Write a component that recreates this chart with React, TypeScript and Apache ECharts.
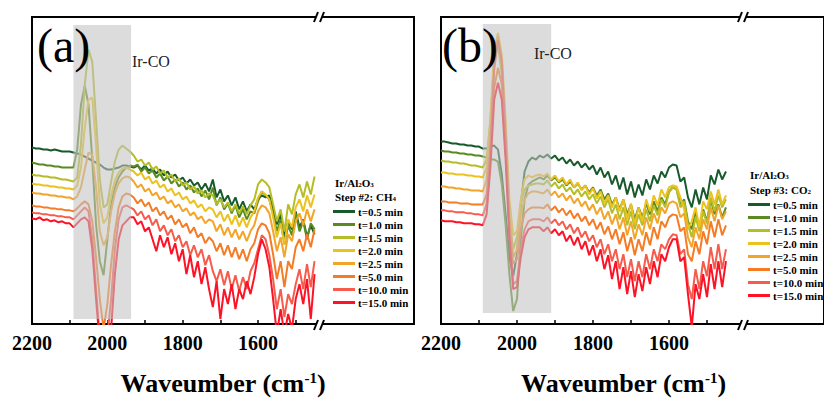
import React, { useEffect, useRef } from "react";
import * as echarts from "echarts";

const FONT = "'Liberation Serif', 'Times New Roman', serif";

// Sampling grid (cm-1)
const wavenumbers = [
  2200, 2190, 2180, 2170, 2160, 2150, 2140, 2130, 2120, 2110, 2100, 2090, 2080, 2070, 2060, 2050, 2040, 2030, 2020,
  2010, 2000, 1990, 1980, 1970, 1960, 1950, 1940, 1930, 1920, 1910, 1900, 1890, 1880, 1870, 1860, 1850, 1840, 1830,
  1820, 1810, 1800, 1790, 1780, 1770, 1760, 1750, 1740, 1730, 1720, 1710, 1700, 1690, 1680, 1670, 1660, 1650, 1640,
  1630, 1620, 1610, 1600, 1590, 1580, 1570, 1560, 1550, 1540, 1530, 1520, 1510, 1500, 1490, 1480, 1470, 1460, 1450,
];

const seriesNames = ["t=0.5 min", "t=1.0 min", "t=1.5 min", "t=2.0 min", "t=2.5 min", "t=5.0 min", "t=10.0 min", "t=15.0 min"];
const seriesColors = ["#175a2b", "#5b8a23", "#b5bd27", "#ecc21e", "#f2a528", "#f57c25", "#f65b4b", "#fe1226"];

const tickValues = [2200, 2100, 2000, 1900, 1800, 1700, 1600, 1500];
const labelValues = [2200, 2000, 1800, 1600];

// Panel (a): Step #2 CH4 (absorbance, a.u., offset)
const a05 = [177,176,176,175,175,174,175,174,173,173,173,172,171,170,168,166,164,162,160,157,155,155,156,157,159,159,158,157,159,155,159,154,156,151,155,149,153,147,150,144,147,141,145,139,142,135,141,133,145,127,135,123,129,119,127,115,123,113,120,115,125,129,127,129,115,100,110,87,103,95,113,97,105,87,99,90];
const a10 = [162,161,160,160,159,159,158,158,157,157,157,157,175,220,239,220,165,100,63,49,85,120,137,147,153,157,159,158,160,153,157,151,154,147,151,144,148,141,145,138,142,135,139,132,136,128,134,125,137,119,127,115,121,111,119,107,115,105,113,111,123,133,129,125,110,93,105,80,99,89,111,93,103,85,101,95];
const a15 = [150,149,149,148,148,147,147,146,145,145,144,143,147,180,240,275,263,205,145,117,120,143,163,175,179,176,173,169,163,165,159,162,155,158,151,154,147,150,143,146,139,142,135,138,131,134,127,131,129,120,125,117,122,113,120,111,118,110,119,125,140,145,142,137,120,103,115,93,120,110,130,140,127,143,130,148];
const a20 = [141,140,140,139,139,138,138,137,137,136,136,135,139,157,197,225,227,180,120,101,107,129,144,152,156,157,155,153,149,152,145,148,141,144,137,140,133,136,129,132,125,128,121,124,117,120,113,117,115,107,113,103,110,100,109,98,107,97,107,113,127,133,130,125,107,87,101,80,105,97,117,125,113,129,117,130];
const a25 = [132,131,131,130,130,129,129,128,128,127,127,125,128,137,155,172,170,137,93,79,87,113,131,141,146,148,147,143,137,140,133,136,129,132,125,128,121,124,117,120,113,116,109,112,105,108,101,105,103,93,100,89,97,87,95,85,93,83,93,99,113,119,117,111,93,73,87,67,90,83,103,111,99,115,103,115];
const a50 = [119,118,118,117,117,116,116,115,115,114,114,113,116,120,123,120,103,67,25,-5,20,60,93,117,128,131,130,127,121,125,118,122,113,117,109,113,105,109,100,105,97,101,91,97,87,91,81,87,83,73,81,69,79,67,77,65,75,63,75,81,95,101,99,91,70,45,63,37,63,55,77,85,73,90,77,95];
const a100 = [112,111,111,110,110,109,109,108,108,107,107,105,109,113,117,113,85,35,-15,-20,-13,25,75,105,117,119,117,115,109,113,105,109,99,105,93,99,89,95,83,89,77,83,69,79,67,75,59,69,53,43,55,39,53,35,49,33,47,35,53,61,75,89,85,69,45,15,35,7,30,20,40,55,35,60,37,63];
const a150 = [106,105,107,104,105,103,104,102,103,101,101,97,101,105,107,103,75,25,-20,-25,-23,-5,50,85,99,103,107,107,100,103,93,97,85,73,89,77,87,70,81,63,75,50,69,47,63,40,57,35,17,43,5,35,20,40,15,35,25,43,30,47,70,85,75,57,25,-10,15,-10,10,-5,25,40,20,45,5,50];

// Panel (b): Step #3 CO2
const b05 = [183,183,182,181,181,180,180,179,179,178,178,176,176,178,179,175,150,110,67,48,70,120,153,163,167,165,169,167,170,166,169,164,167,161,165,159,163,157,161,155,159,150,157,147,153,140,149,135,147,130,143,127,140,129,145,135,149,141,153,147,157,160,159,143,147,127,117,135,120,137,125,149,140,155,145,153];
const b10 = [174,173,173,172,172,171,171,170,170,169,169,168,167,165,165,163,140,100,50,13,25,85,125,140,143,145,147,145,149,144,147,142,145,139,143,137,141,135,139,132,137,129,135,125,131,120,127,115,125,110,120,105,117,107,121,110,123,113,127,120,133,137,135,120,125,103,95,113,97,115,103,125,110,120,107,117];
const b15 = [164,163,163,162,162,161,161,160,159,159,158,157,165,205,265,280,250,175,105,75,87,120,135,139,140,141,141,140,144,138,142,136,140,133,137,130,135,128,133,125,130,121,128,117,125,111,120,105,117,99,113,95,110,99,115,103,119,109,125,117,132,137,135,117,123,100,87,107,93,113,101,127,113,129,117,125];
const b20 = [152,152,151,151,150,150,150,149,149,148,148,147,157,205,275,292,270,205,125,89,93,125,145,149,147,149,150,148,151,145,149,143,147,140,145,137,142,134,139,130,136,126,133,121,129,117,127,113,125,105,121,100,117,103,125,113,129,119,135,127,137,139,138,127,115,95,103,117,97,123,115,133,120,135,120,129];
const b25 = [138,138,137,137,136,136,135,135,134,134,134,133,145,195,265,289,265,195,110,67,75,110,125,131,133,133,132,131,135,129,133,127,131,124,129,121,126,118,123,114,120,110,117,105,113,100,110,95,107,89,103,85,100,89,107,95,111,101,117,111,121,123,121,107,111,87,77,97,85,105,95,117,103,119,105,113];
const b50 = [123,123,122,122,122,121,121,121,120,120,120,120,130,175,237,257,240,175,97,60,65,95,111,115,117,117,117,116,120,114,118,112,116,109,114,106,111,103,108,99,105,95,102,90,98,85,95,80,92,73,87,69,85,73,92,79,97,85,103,97,107,110,109,93,97,70,63,83,70,93,80,103,87,105,89,99];
const b100 = [114,114,113,113,112,112,112,111,111,110,110,109,120,175,255,285,263,185,95,40,43,75,95,103,105,105,105,103,107,101,105,99,103,95,100,91,97,87,93,83,89,77,85,70,80,63,75,55,70,47,65,43,63,47,70,55,75,63,80,75,85,90,89,70,75,40,25,55,35,63,48,77,55,80,55,75];
const b150 = [104,103,103,103,102,102,101,101,101,100,100,99,110,157,225,242,225,165,85,35,37,67,87,95,97,97,97,93,97,91,95,89,93,83,89,79,87,75,83,69,79,63,75,55,69,45,63,35,57,30,53,27,50,33,57,40,63,47,70,63,77,85,85,63,67,30,-3,40,25,50,27,60,35,63,37,63];

const panelA = [a05, a10, a15, a20, a25, a50, a100, a150];
const panelB = [b05, b10, b15, b20, b25, b50, b100, b150];

// Ir-CO shaded region: [from cm-1, bottom a.u., to cm-1, top a.u.]
const bandA = [2090, 5, 1937, 300];
const bandB = [2090, 11, 1910, 301];

const Y_MAX = 308;

function makeX(gridIndex: number, min: number, shift: number) {
  return {
    type: "value",
    gridIndex,
    inverse: true,
    min,
    max: 2200,
    axisLine: { show: true, onZero: false, lineStyle: { color: "#000", width: 2 } },
    axisTick: { show: true, inside: true, length: 4, customValues: tickValues, lineStyle: { color: "#000", width: 1.5 } },
    axisLabel: {
      customValues: labelValues,
      formatter: (v: number) => String(v),
      fontSize: 20,
      fontWeight: "bold",
      fontFamily: FONT,
      color: "#000",
      margin: 9,
    },
    splitLine: { show: false },
    name: "Waveumber (cm{sup|-1})",
    nameLocation: "middle",
    nameGap: 46,
    nameTextStyle: {
      fontSize: 26,
      fontWeight: "bold",
      fontFamily: FONT,
      color: "#000",
      padding: [0, shift, 0, 0],
      rich: {
        sup: { fontSize: 15, fontWeight: "bold", fontFamily: FONT, color: "#000", verticalAlign: "top", padding: [0, 0, 8, 0] },
      },
    },
  };
}

function makeY(gridIndex: number) {
  return {
    type: "value",
    gridIndex,
    min: 0,
    max: Y_MAX,
    axisLine: { show: true, lineStyle: { color: "#000", width: 2 } },
    axisTick: { show: false },
    axisLabel: { show: false },
    splitLine: { show: false },
  };
}

function lineSeries(arrs: number[][], idx: number) {
  return arrs.map((vals, i) => ({
    type: "line",
    name: seriesNames[i],
    xAxisIndex: idx,
    yAxisIndex: idx,
    data: wavenumbers.map((w, j) => [w, vals[j]]),
    showSymbol: false,
    symbol: "none",
    clip: true,
    z: 2,
    lineStyle: { width: 2, color: seriesColors[i] },
    itemStyle: { color: seriesColors[i] },
  }));
}

function bandSeries(band: number[], idx: number) {
  return {
    type: "custom",
    name: "band" + idx,
    xAxisIndex: idx,
    yAxisIndex: idx,
    data: [band],
    z: 10,
    silent: true,
    renderItem: (params: any, api: any) => {
      const p0 = api.coord([api.value(0), api.value(1)]);
      const p1 = api.coord([api.value(2), api.value(3)]);
      return {
        type: "rect",
        shape: {
          x: Math.min(p0[0], p1[0]),
          y: Math.min(p0[1], p1[1]),
          width: Math.abs(p1[0] - p0[0]),
          height: Math.abs(p1[1] - p0[1]),
        },
        style: { fill: "rgba(195,195,195,0.58)" },
      };
    },
  };
}

function legendFor(left: number, top: number) {
  return {
    data: seriesNames,
    left,
    top,
    orient: "vertical",
    icon: "rect",
    itemWidth: 22,
    itemHeight: 3,
    itemGap: 2,
    padding: 0,
    selectedMode: false,
    textStyle: { fontFamily: FONT, fontWeight: "bold", fontSize: 11, color: "#000", padding: [0, 0, 0, -2] },
  };
}

const subRich = {
  s: { fontSize: 7, fontWeight: "bold", fontFamily: FONT, fill: "#000", verticalAlign: "bottom", padding: [4, 0, 0, 0] },
};

function legendTitle(x: number, y1: number, y2: number, step: string, gas: string, sub: string) {
  return [
    {
      type: "text",
      x,
      y: y1,
      z: 100,
      style: {
        text: "Ir/Al{s|2}O{s|3}",
        fontSize: 11,
        fontWeight: "bold",
        fontFamily: FONT,
        fill: "#000",
        verticalAlign: "middle",
        rich: subRich,
      },
    },
    {
      type: "text",
      x,
      y: y2,
      z: 100,
      style: {
        text: "Step #" + step + ": " + gas + "{s|" + sub + "}",
        fontSize: 11,
        fontWeight: "bold",
        fontFamily: FONT,
        fill: "#000",
        verticalAlign: "middle",
        rich: subRich,
      },
    },
  ];
}

function breakMark(x: number) {
  const els: any[] = [];
  [17, 325].forEach((y) => {
    els.push({ type: "rect", z: 100, shape: { x: x - 3, y: y - 3, width: 6, height: 6 }, style: { fill: "#fff" } });
    els.push({ type: "line", z: 101, shape: { x1: x - 5, y1: y + 5, x2: x - 1, y2: y - 5 }, style: { stroke: "#000", lineWidth: 2 } });
    els.push({ type: "line", z: 101, shape: { x1: x + 1, y1: y + 5, x2: x + 5, y2: y - 5 }, style: { stroke: "#000", lineWidth: 2 } });
  });
  return els;
}

function textEl(text: string, x: number, y: number, size: number, fill: string) {
  return {
    type: "text",
    x,
    y,
    z: 100,
    style: { text, fontSize: size, fontWeight: "normal", fontFamily: FONT, fill, verticalAlign: "middle", align: "left" },
  };
}

export default function App() {
  const ref = useRef<HTMLDivElement>(null);
  useEffect(() => {
    if (!ref.current) return;
    const chart = echarts.init(ref.current, undefined, { renderer: "svg" });
    const option: any = {
      animation: false,
      backgroundColor: "#fff",
      grid: [
        { left: 32, top: 17, width: 382, height: 308, show: true, borderColor: "#000", borderWidth: 2, backgroundColor: "transparent" },
        { left: 441, top: 17, width: 400, height: 308, show: true, borderColor: "#000", borderWidth: 2, backgroundColor: "transparent" },
      ],
      xAxis: [makeX(0, 1186, 0), makeX(1, 1192, 18)],
      yAxis: [makeY(0), makeY(1)],
      legend: [legendFor(333, 206), legendFor(748, 199)],
      series: [...lineSeries(panelA, 0), bandSeries(bandA, 0), ...lineSeries(panelB, 1), bandSeries(bandB, 1)],
      graphic: [
        textEl("(a)", 37, 45, 48, "#000"),
        textEl("(b)", 442, 45, 48, "#000"),
        textEl("Ir-CO", 132, 61, 16, "#222"),
        textEl("Ir-CO", 534, 53, 16, "#222"),
        ...legendTitle(335, 183, 197, "2", "CH", "4"),
        ...legendTitle(750, 175, 190, "3", "CO", "2"),
        ...breakMark(319),
        ...breakMark(743),
      ],
    };
    chart.setOption(option);
    return () => chart.dispose();
  }, []);
  return <div ref={ref} style={{ position: "absolute", left: 0, top: 0, width: 824, height: 401, overflow: "hidden" }} />;
}
